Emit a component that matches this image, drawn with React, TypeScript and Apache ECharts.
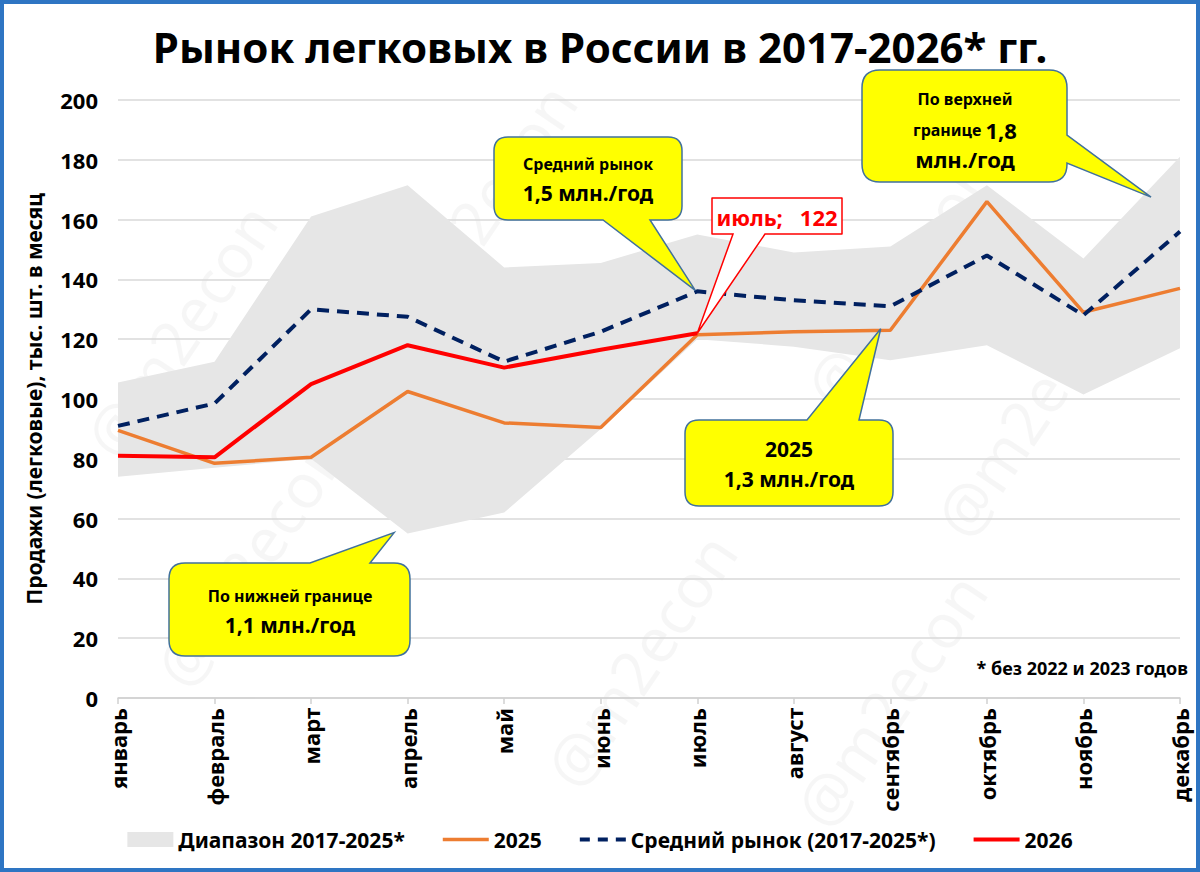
import React, { useEffect, useRef } from "react";
import * as echarts from "echarts";

const months = ["январь", "февраль", "март", "апрель", "май", "июнь", "июль", "август", "сентябрь", "октябрь", "ноябрь", "декабрь"];
const rangeLow = [74, 77, 80, 55, 62, 90, 120, 117.5, 113, 118, 101.5, 117];
const rangeHigh = [105.5, 112.5, 161, 171.5, 144, 145.5, 155, 149, 151, 171.5, 147, 181];
const sales2025 = [89.5, 78.5, 80.5, 102.5, 92, 90.5, 121.5, 122.5, 123, 166, 129, 137];
const avgMarket = [91, 98.5, 130, 127.5, 112.5, 122.5, 136, 133, 131, 148, 128, 156];
const sales2026 = [81, 80.5, 105, 118, 110.5, 116.5, 122];

const FONT = "'Noto Sans', sans-serif";
const W = 1200;
const H = 872;
const G = { left: 118, right: 20, top: 100, bottom: 174 };
const Y_MAX = 200;

function px(idx: number, val: number): [number, number] {
  const pw = W - G.left - G.right;
  const ph = H - G.top - G.bottom;
  return [G.left + (idx * pw) / (months.length - 1), G.top + ph * (1 - val / Y_MAX)];
}

function calloutPath(x: number, y: number, w: number, h: number, r: number, side: string, b1: number, b2: number, tx: number, ty: number) {
  const p: string[] = [];
  p.push(`M${x + r},${y}`);
  if (side === "top") p.push(`L${b1},${y}L${tx},${ty}L${b2},${y}`);
  p.push(`L${x + w - r},${y}Q${x + w},${y} ${x + w},${y + r}`);
  if (side === "right") p.push(`L${x + w},${b1}L${tx},${ty}L${x + w},${b2}`);
  p.push(`L${x + w},${y + h - r}Q${x + w},${y + h} ${x + w - r},${y + h}`);
  if (side === "bottom") p.push(`L${b2},${y + h}L${tx},${ty}L${b1},${y + h}`);
  p.push(`L${x + r},${y + h}Q${x},${y + h} ${x},${y + h - r}`);
  if (side === "left") p.push(`L${x},${b2}L${tx},${ty}L${x},${b1}`);
  p.push(`L${x},${y + r}Q${x},${y} ${x + r},${y}Z`);
  return p.join("");
}

// legend icons: an invisible bounding box (M0,0 M46,18) keeps the stroke thin
const ICON_BOX = "M0,0M46,18";
const iconRect = `path://${ICON_BOX}M0,1.5L46,1.5L46,16.5L0,16.5Z`;
const iconLine3 = `path://${ICON_BOX}M0,7.25L46,7.25L46,10.75L0,10.75Z`;
const iconLine4 = `path://${ICON_BOX}M0,7L46,7L46,11L0,11Z`;
const iconDash = `path://${ICON_BOX}M0,7L10,7L10,11L0,11ZM18,7L28,7L28,11L18,11ZM36,7L46,7L46,11L36,11Z`;

export default function App() {
  const ref = useRef<HTMLDivElement>(null);
  useEffect(() => {
    document.body.style.margin = "0";
    if (!ref.current) return;
    const chart = echarts.init(ref.current, null, { renderer: "svg" });

    const bandDiff = rangeHigh.map((v, i) => +(v - rangeLow[i]).toFixed(2));

    const tipAvg = px(6, avgMarket[6]);
    const tip2026 = px(6, sales2026[6]);
    const tipUpper = px(10.7, 167.5);
    const tip2025 = px(7.9, 123.5);
    const tipLower = px(2.86, 55.3);

    const shapes = [
      { name: "cAvg", d: calloutPath(494, 137, 188, 83, 14, "bottom", 603, 650, tipAvg[0] - 2, tipAvg[1] - 1), fill: "#ffff00", stroke: "#41719c" },
      { name: "cUp", d: calloutPath(862, 70, 205, 112, 18, "right", 135, 163, tipUpper[0], tipUpper[1]), fill: "#ffff00", stroke: "#41719c" },
      { name: "c2025", d: calloutPath(685, 420, 208, 86, 14, "top", 807, 859, tip2025[0], tip2025[1]), fill: "#ffff00", stroke: "#41719c" },
      { name: "cLow", d: calloutPath(169, 563, 241, 93, 16, "top", 310, 370, tipLower[0], tipLower[1]), fill: "#ffff00", stroke: "#41719c" },
      { name: "cJul", d: calloutPath(712, 198, 130, 36, 0.01, "bottom", 733, 765, tip2026[0], tip2026[1]), fill: "#ffffff", stroke: "#ff0000" },
    ];
    shapes.forEach((s) => {
      echarts.graphic.registerShape(s.name, echarts.graphic.extendPath(s.d, {}) as any);
    });

    const wm: [number, number][] = [
      [480, 210], [180, 330], [250, 560], [640, 660], [900, 280], [1030, 410], [890, 700],
    ];

    const txt = (x: number, y: number, text: string, size: number, extra: any = {}) => ({
      type: "text",
      x,
      y,
      z: 110,
      style: {
        text,
        fill: "#000",
        font: `bold ${size}px ${FONT}`,
        align: "center",
        verticalAlign: "middle",
        ...extra,
      },
    });

    const graphic: any[] = [
      ...wm.map(([x, y]) => ({
        type: "text",
        x,
        y,
        rotation: 0.98,
        z: 0,
        silent: true,
        style: {
          text: "@m2econ",
          fill: "rgba(0,0,0,0.035)",
          font: `62px ${FONT}`,
          align: "center",
          verticalAlign: "middle",
        },
      })),
      ...shapes.map((s) => ({
        type: s.name,
        x: 0,
        y: 0,
        scaleX: 1,
        scaleY: 1,
        z: 100,
        style: { fill: s.fill, stroke: s.stroke, lineWidth: 1.5 },
      })),
      txt(588, 164, "Средний рынок", 16),
      txt(588, 193, "1,5 млн./год", 21),
      {
        type: "text",
        x: 965,
        y: 130,
        z: 110,
        style: {
          text: "{a|границе }{b|1,8}",
          align: "center",
          verticalAlign: "middle",
          rich: {
            a: { font: `bold 16px ${FONT}`, fill: "#000" },
            b: { font: `bold 22px ${FONT}`, fill: "#000" },
          },
        },
      },
      txt(965, 99, "По верхней", 16),
      txt(965, 159, "млн./год", 22),
      txt(789, 449, "2025", 21),
      txt(789, 479, "1,3 млн./год", 21),
      txt(290, 596, "По нижней границе", 16),
      txt(290, 625, "1,1 млн./год", 21),
      txt(777, 217, "июль;   122", 22, { fill: "#ff0000" }),
      txt(1188, 668, "* без 2022 и 2023 годов", 18, { align: "right" }),
      {
        type: "rect",
        z: 120,
        silent: true,
        shape: { x: 2, y: 2, width: W - 4, height: H - 4 },
        style: { fill: "none", stroke: "#2e75c3", lineWidth: 4 },
      },
    ];

    const option: any = {
      animation: false,
      backgroundColor: "#ffffff",
      title: {
        text: "Рынок легковых в России в 2017-2026* гг.",
        left: "center",
        top: 20,
        textStyle: { fontFamily: FONT, fontWeight: "bold", fontSize: 42, color: "#000" },
      },
      grid: { left: G.left, right: G.right, top: G.top, bottom: G.bottom, containLabel: false },
      legend: {
        bottom: 17,
        left: "center",
        itemGap: 38,
        itemWidth: 46,
        itemHeight: 18,
        textStyle: { fontFamily: FONT, fontWeight: "bold", fontSize: 21, color: "#000" },
        data: [
          { name: "Диапазон 2017-2025*", icon: iconRect, itemStyle: { color: "#e6e6e6" } },
          { name: "2025", icon: iconLine3, itemStyle: { color: "#ed7d31" } },
          { name: "Средний рынок (2017-2025*)", icon: iconDash, itemStyle: { color: "#002060" } },
          { name: "2026", icon: iconLine4, itemStyle: { color: "#ff0000" } },
        ],
      },
      xAxis: {
        type: "category",
        data: months,
        boundaryGap: false,
        axisLine: { lineStyle: { color: "#d0d0d0", width: 1.5 } },
        axisTick: { show: true, length: 6, lineStyle: { color: "#d0d0d0", width: 1.5 } },
        axisLabel: {
          rotate: 90,
          interval: 0,
          margin: 10,
          fontFamily: FONT,
          fontWeight: "bold",
          fontSize: 22,
          color: "#000",
        },
      },
      yAxis: {
        type: "value",
        min: 0,
        max: Y_MAX,
        interval: 20,
        name: "Продажи (легковые), тыс. шт. в месяц",
        nameLocation: "middle",
        nameGap: 74,
        nameTextStyle: { fontFamily: FONT, fontWeight: "bold", fontSize: 21, color: "#000" },
        axisLine: { show: false },
        axisTick: { show: false },
        axisLabel: { fontFamily: FONT, fontWeight: "bold", fontSize: 22, color: "#000", margin: 20 },
        splitLine: { lineStyle: { color: "#d9d9d9", width: 1.5 } },
      },
      series: [
        {
          name: "rangeLow",
          type: "line",
          stack: "band",
          data: rangeLow,
          symbol: "none",
          lineStyle: { opacity: 0 },
          silent: true,
          z: 1,
        },
        {
          name: "Диапазон 2017-2025*",
          type: "line",
          stack: "band",
          data: bandDiff,
          symbol: "none",
          lineStyle: { opacity: 0 },
          itemStyle: { color: "#e6e6e6" },
          areaStyle: { color: "#e6e6e6", opacity: 1 },
          silent: true,
          z: 1,
        },
        {
          name: "2025",
          type: "line",
          data: sales2025,
          symbol: "none",
          itemStyle: { color: "#ed7d31" },
          lineStyle: { color: "#ed7d31", width: 3.5 },
          z: 3,
        },
        {
          name: "Средний рынок (2017-2025*)",
          type: "line",
          data: avgMarket,
          symbol: "none",
          itemStyle: { color: "#002060" },
          lineStyle: { color: "#002060", width: 4, type: [12, 8] },
          z: 4,
        },
        {
          name: "2026",
          type: "line",
          data: sales2026,
          symbol: "none",
          itemStyle: { color: "#ff0000" },
          lineStyle: { color: "#ff0000", width: 4 },
          z: 5,
        },
      ],
      graphic,
    };
    chart.setOption(option);
    return () => chart.dispose();
  }, []);
  return <div ref={ref} style={{ width: W, height: H }} />;
}
